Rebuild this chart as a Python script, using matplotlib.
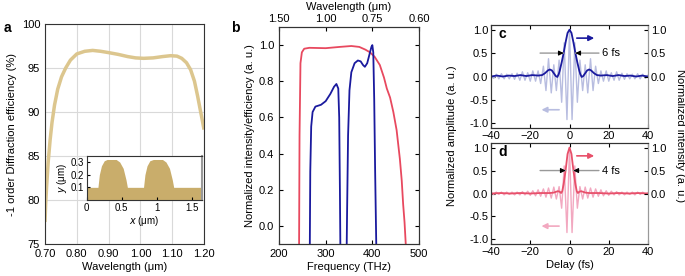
import numpy as np
import matplotlib
matplotlib.use('Agg')
import matplotlib.pyplot as plt

plt.rcParams['font.family'] = ['Liberation Sans', 'DejaVu Sans']
plt.rcParams['font.size'] = 8
plt.rcParams['axes.linewidth'] = 0.8
plt.rcParams['axes.edgecolor'] = '#333333'
plt.rcParams['xtick.direction'] = 'in'
plt.rcParams['ytick.direction'] = 'in'
plt.rcParams['xtick.major.size'] = 3
plt.rcParams['ytick.major.size'] = 3

# panel a: diffraction efficiency vs wavelength
wl_a = [0.700, 0.702, 0.705, 0.710, 0.716, 0.722, 0.730, 0.740, 0.752, 0.765,
        0.780, 0.800, 0.825, 0.850, 0.875, 0.900, 0.930, 0.960, 0.985, 1.010,
        1.040, 1.070, 1.095, 1.115, 1.130, 1.145, 1.158, 1.170, 1.180, 1.188,
        1.195, 1.200]
eff_a = [77.5, 79.5, 81.5, 84.3, 86.8, 88.8, 90.8, 92.6, 94.0, 95.0,
         95.9, 96.6, 96.9, 97.0, 96.9, 96.75, 96.55, 96.3, 96.15, 96.1,
         96.15, 96.3, 96.4, 96.35, 96.1, 95.6, 94.8, 93.5, 91.8, 90.3,
         89.0, 88.0]

# inset: grating profile
gx = [0, 0.16, 0.18, 0.21, 0.25, 0.29, 0.42, 0.47, 0.52, 0.56, 0.58,
      0.81, 0.83, 0.86, 0.90, 0.95, 1.08, 1.13, 1.18, 1.22, 1.24, 1.64]
gy = [0.1, 0.1, 0.2, 0.27, 0.31, 0.32, 0.32, 0.30, 0.25, 0.16, 0.1,
      0.1, 0.2, 0.27, 0.31, 0.32, 0.32, 0.30, 0.25, 0.16, 0.1, 0.1]

# panel b: spectrum (blue) and efficiency (red)
f_red = [243, 244, 246, 249, 254, 265, 300, 330, 355, 372, 385, 395, 405, 416,
         425, 431, 438, 445, 452, 459, 463, 466, 469, 472]
v_red = [-0.12, 0.5, 0.9, 0.96, 0.98, 0.985, 0.983, 0.99, 0.995, 0.99, 0.975, 0.96,
         0.935, 0.89, 0.82, 0.76, 0.71, 0.63, 0.53, 0.37, 0.25, 0.12, 0.02, -0.12]
f_blue = [266, 267, 269, 272, 278, 290, 300, 310, 318, 323, 327, 329, 330.5, 331.5,
          345, 346, 348, 351, 355, 362, 369, 375, 380, 384, 389, 394, 398, 400,
          402, 404, 406, 408.5]
v_blue = [-0.12, 0.3, 0.55, 0.63, 0.66, 0.67, 0.69, 0.73, 0.77, 0.785, 0.76, 0.6, 0.2, -0.12,
          -0.12, 0.1, 0.5, 0.75, 0.85, 0.9, 0.915, 0.91, 0.89, 0.88, 0.9, 0.95, 0.99, 1.0,
          0.96, 0.7, 0.3, -0.12]
wl_ticks = [1.50, 1.00, 0.75, 0.60]

# panels c, d: field (light) sampled at its extrema
t_field = [-40.0, -38.7, -37.3, -36.0, -34.7, -33.3, -32.0, -30.7, -29.3, -28.0,
           -26.7, -25.3, -24.0, -22.7, -21.3, -20.0, -18.7, -17.3, -16.0, -14.7,
           -13.3, -12.0, -10.7, -9.3, -8.0, -6.7, -5.3, -4.0, -2.7, -1.3,
           0.0, 1.3, 2.7, 4.0, 5.3, 6.7, 8.0, 9.3, 10.7, 12.0,
           13.3, 14.7, 16.0, 17.3, 18.7, 20.0, 21.3, 22.7, 24.0, 25.3,
           26.7, 28.0, 29.3, 30.7, 32.0, 33.3, 34.7, 36.0, 37.3, 38.7, 40.0]
field_c = [0.03, -0.04, 0.05, -0.05, 0.06, -0.05, 0.05, -0.05, 0.06, -0.06,
           0.07, -0.08, 0.10, -0.08, 0.08, -0.10, 0.12, -0.10, 0.12, -0.15,
           0.22, -0.30, 0.38, -0.35, 0.25, -0.30, 0.35, -0.55, 0.72, -0.92,
           1.0, -0.92, 0.72, -0.55, 0.35, -0.30, 0.25, -0.35, 0.38, -0.30,
           0.22, -0.15, 0.12, -0.10, 0.12, -0.10, 0.08, -0.08, 0.10, -0.08,
           0.07, -0.06, 0.06, -0.05, 0.05, -0.05, 0.06, -0.05, 0.05, -0.04, 0.03]
field_d = [0.02, -0.02, 0.03, -0.02, 0.03, -0.03, 0.03, -0.02, 0.03, -0.03,
           0.03, -0.03, 0.04, -0.03, 0.05, -0.04, 0.06, -0.05, 0.08, -0.06,
           0.10, -0.08, 0.12, -0.10, 0.14, -0.12, 0.15, -0.32, 0.60, -0.85,
           1.0, -0.85, 0.60, -0.32, 0.15, -0.12, 0.14, -0.10, 0.12, -0.08,
           0.10, -0.06, 0.08, -0.05, 0.06, -0.04, 0.05, -0.03, 0.04, -0.03,
           0.03, -0.03, 0.03, -0.02, 0.03, -0.03, 0.03, -0.02, 0.03, -0.02, 0.02]

# envelopes (intensity)
t_env_c = [-40, -37, -34, -31, -28, -25, -22, -19, -16, -14, -12.5, -11, -10, -9, -8,
           -7, -6.2, -5.5, -5, -4, -3, -2, -1, 0, 1, 2, 3, 4, 5, 5.5, 6.2,
           7, 8, 9, 10, 11, 12.5, 14, 16, 19, 22, 25, 28, 31, 34, 37, 40]
env_c = [0.0, 0.02, 0.0, 0.02, 0.01, 0.03, 0.01, 0.03, 0.02, 0.03, 0.07, 0.13, 0.15, 0.13, 0.07,
         0.01, -0.01, 0.05, 0.12, 0.30, 0.50, 0.73, 0.93, 1.0, 0.93, 0.73, 0.50, 0.30, 0.12, 0.05, -0.01,
         0.01, 0.07, 0.13, 0.15, 0.13, 0.07, 0.03, 0.02, 0.03, 0.01, 0.03, 0.01, 0.02, 0.0, 0.02, 0.0]
t_env_d = [-40, -35, -30, -25, -20, -15, -10, -8, -6, -5, -4.3, -3.7, -3, -2, -1, 0,
           1, 2, 3, 3.7, 4.3, 5, 6, 8, 10, 15, 20, 25, 30, 35, 40]
env_d = [0.0, 0.01, 0.0, 0.01, 0.0, 0.01, 0.01, 0.02, 0.05, 0.04, 0.01, 0.05, 0.2, 0.5, 0.86, 1.0,
         0.86, 0.5, 0.2, 0.05, 0.01, 0.04, 0.05, 0.02, 0.01, 0.01, 0.0, 0.01, 0.0, 0.01, 0.0]

gold = '#dcc68e'
gold_fill = '#c9ad6b'
red = '#e8495f'
blue = '#1a1a9e'
light_blue = '#b8bde0'
red_d = '#e8506a'
pink = '#f2a8c0'

fig = plt.figure(figsize=(6.85, 2.76), dpi=100)

# ---- a ----
ax_a = fig.add_axes([0.0657, 0.1159, 0.2321, 0.7971])
ax_a.plot(wl_a, eff_a, color=gold, lw=2.5, solid_capstyle='butt')
ax_a.set_xlim(0.70, 1.20)
ax_a.set_ylim(75, 100)
ax_a.set_xticks([0.70, 0.80, 0.90, 1.00, 1.10, 1.20])
ax_a.set_xticklabels(['0.70', '0.80', '0.90', '1.00', '1.10', '1.20'])
ax_a.set_yticks([75, 80, 85, 90, 95, 100])
ax_a.grid(True, color='#d9d9d9', lw=0.8)
ax_a.set_axisbelow(True)
ax_a.tick_params(length=0)
ax_a.set_xlabel('Wavelength (μm)', labelpad=2)
ax_a.set_ylabel('-1 order Diffraction efficiency (%)', labelpad=3)

ax_in = fig.add_axes([0.1266, 0.2754, 0.1679, 0.1605])
ax_in.fill_between(gx, 0, gy, color=gold_fill, lw=0)
ax_in.set_xlim(0, 1.64)
ax_in.set_ylim(0, 0.35)
ax_in.set_xticks([0, 0.5, 1, 1.5])
ax_in.set_xticklabels(['0', '0.5', '1', '1.5'])
ax_in.set_yticks([0.1, 0.2, 0.3])
ax_in.tick_params(labelsize=7, length=2, pad=2)
ax_in.spines['right'].set_color('#999999')
ax_in.spines['right'].set_linewidth(1.5)
ax_in.set_xlabel('$x$ (μm)', fontsize=7, labelpad=1)
ax_in.set_ylabel('$y$ (μm)', fontsize=7, labelpad=1)

# ---- b ----
ax_b = fig.add_axes([0.4073, 0.1159, 0.2044, 0.7862])
ax_b.plot(f_red, v_red, color=red, lw=1.3)
ax_b.plot(f_blue, v_blue, color=blue, lw=1.3)
ax_b.set_xlim(200, 500)
ax_b.set_ylim(-0.1, 1.1)
ax_b.set_xticks([200, 300, 400, 500])
ax_b.set_yticks([0.0, 0.2, 0.4, 0.6, 0.8, 1.0])
ax_b.set_yticklabels(['0.0', '0.2', '0.4', '0.6', '0.8', '1.0'])
ax_b.tick_params(right=True)
ax_b.set_xlabel('Frequency (THz)', labelpad=2)
ax_b.set_ylabel('Normalized intensity/efficiency (a. u.)', labelpad=3)

# top axis: wavelength ticks placed at the matching frequency (c ~ 300 um*THz)
ax_top = ax_b.twiny()
ax_top.set_xlim(ax_b.get_xlim())
ax_top.set_xticks([300.0 / w for w in wl_ticks])
ax_top.set_xticklabels([f'{w:.2f}' for w in wl_ticks])
ax_top.tick_params(direction='in', length=3, pad=2)
ax_top.set_xlabel('Wavelength (μm)', labelpad=3)

fig.text(0.005, 0.90, 'a', fontsize=10, fontweight='bold', ha='left', va='center')
fig.text(0.338, 0.90, 'b', fontsize=10, fontweight='bold', ha='left', va='center')


def pulse_panel(ax, field, t_env, env, c_main, c_light, fwhm, letter):
    ax.plot(t_field, field, color=c_light, lw=1.0)
    ax.plot(t_env, env, color=c_main, lw=1.3)
    ax.set_xlim(-40, 40)
    ax.set_ylim(-1.1, 1.1)
    ax.set_xticks([-40, -20, 0, 20, 40])
    ax.set_yticks([-1.0, -0.5, 0.0, 0.5, 1.0])
    ax.set_yticklabels(['-1.0', '-0.5', '0.0', '0.5', '1.0'])
    ax.tick_params(top=True, pad=2)
    ax.spines['right'].set_color('#999999')
    axr = ax.twinx()
    axr.set_ylim(-1.1, 1.1)
    axr.set_yticks([0.0, 0.5, 1.0])
    axr.set_yticklabels(['0.0', '0.5', '1.0'])
    axr.tick_params(direction='in', length=3, pad=2)
    axr.spines['right'].set_color('#999999')
    ax.annotate('', xy=(14, 0.82), xytext=(2.3, 0.82),
                arrowprops=dict(arrowstyle='-|>', color=c_main, lw=1.2, mutation_scale=8))
    ax.annotate('', xy=(-15.7, -0.71), xytext=(-3.9, -0.71),
                arrowprops=dict(arrowstyle='-|>', color=c_light, lw=1.2, mutation_scale=8))
    h = fwhm / 2
    for s in (-1, 1):
        ax.annotate('', xy=(s * h, 0.5), xytext=(s * 15, 0.5),
                    arrowprops=dict(arrowstyle='-', color='#999999', lw=1.0, shrinkA=0, shrinkB=0))
        ax.annotate('', xy=(s * h, 0.5), xytext=(s * (h + 2.5), 0.5),
                    arrowprops=dict(arrowstyle='-|>', color='black', lw=0.8, mutation_scale=7,
                                    shrinkA=0, shrinkB=0))
    ax.text(16.5, 0.5, f'{fwhm} fs', va='center', ha='left', fontsize=8)
    ax.text(-36, 0.9, letter, fontsize=10, fontweight='bold', va='center', ha='left')
    return axr


ax_c = fig.add_axes([0.7168, 0.5362, 0.2292, 0.3732])
pulse_panel(ax_c, field_c, t_env_c, env_c, blue, light_blue, 6, 'c')
ax_d = fig.add_axes([0.7168, 0.1159, 0.2292, 0.366])
pulse_panel(ax_d, field_d, t_env_d, env_d, red_d, pink, 4, 'd')
ax_d.set_xlabel('Delay (fs)', labelpad=2)

fig.text(0.660, 0.51, 'Normalized amplitude (a. u.)', rotation=90, ha='center', va='center')
fig.text(0.992, 0.51, 'Normalized intensity (a. u.)', rotation=270, ha='center', va='center')

fig.savefig('out.png', dpi=100)
